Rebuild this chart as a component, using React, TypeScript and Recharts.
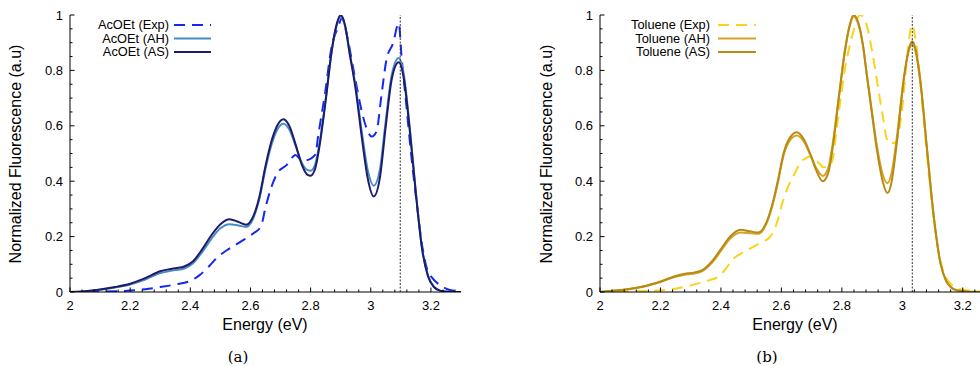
import React from 'react';
import { LineChart, Line, XAxis, YAxis, ReferenceLine } from 'recharts';

// ---------- data: panel (a) AcOEt ----------
const acExpE = [2.0, 2.1, 2.2, 2.25, 2.3, 2.35, 2.4, 2.43, 2.46, 2.49, 2.52, 2.55, 2.58, 2.61, 2.635, 2.65, 2.67, 2.69, 2.72, 2.75, 2.765, 2.785, 2.815, 2.826, 2.848, 2.87, 2.892, 2.905, 2.92, 2.947, 2.969, 2.986, 3.003, 3.019, 3.035, 3.052, 3.074, 3.093, 3.103, 3.117, 3.133, 3.155, 3.172, 3.188, 3.205, 3.22, 3.24, 3.26, 3.28, 3.3];
const acExpV = [0.0, 0.001, 0.005, 0.01, 0.018, 0.027, 0.04, 0.06, 0.09, 0.125, 0.15, 0.17, 0.19, 0.212, 0.237, 0.305, 0.38, 0.43, 0.458, 0.495, 0.48, 0.476, 0.495, 0.57, 0.718, 0.886, 0.958, 0.99, 0.93, 0.777, 0.657, 0.591, 0.561, 0.579, 0.705, 0.838, 0.898, 0.97, 0.84, 0.69, 0.51, 0.3, 0.16, 0.08, 0.05, 0.033, 0.018, 0.008, 0.004, 0.002];

const acCalcE = [2.0, 2.05, 2.1, 2.15, 2.2, 2.25, 2.3, 2.35, 2.38, 2.41, 2.44, 2.47, 2.5, 2.53, 2.56, 2.585, 2.61, 2.63, 2.65, 2.67, 2.69, 2.71, 2.73, 2.75, 2.77, 2.79, 2.8, 2.815, 2.83, 2.85, 2.87, 2.885, 2.9, 2.915, 2.93, 2.95, 2.97, 2.99, 3.01, 3.03, 3.05, 3.07, 3.093, 3.11, 3.13, 3.15, 3.17, 3.19, 3.21, 3.23, 3.26, 3.3];
const acAhV = [0.0, 0.003, 0.008, 0.016, 0.027, 0.045, 0.068, 0.079, 0.085, 0.105, 0.145, 0.192, 0.23, 0.245, 0.24, 0.235, 0.268, 0.338, 0.445, 0.532, 0.588, 0.607, 0.585, 0.528, 0.468, 0.44, 0.438, 0.46, 0.54, 0.695, 0.868, 0.955, 0.995, 0.958, 0.862, 0.74, 0.58, 0.44, 0.384, 0.44, 0.62, 0.785, 0.845, 0.785, 0.59, 0.36, 0.162, 0.06, 0.019, 0.005, 0.001, 0.0];
const acAsV = [0.0, 0.003, 0.009, 0.018, 0.03, 0.05, 0.075, 0.086, 0.092, 0.112, 0.155, 0.205, 0.245, 0.263, 0.253, 0.243, 0.275, 0.345, 0.455, 0.545, 0.603, 0.624, 0.598, 0.533, 0.462, 0.423, 0.42, 0.445, 0.53, 0.69, 0.87, 0.96, 1.0, 0.96, 0.86, 0.73, 0.56, 0.41, 0.345, 0.41, 0.6, 0.77, 0.829, 0.77, 0.58, 0.355, 0.16, 0.058, 0.018, 0.005, 0.001, 0.0];

// ---------- data: panel (b) Toluene ----------
const tolExpE = [2.0, 2.1, 2.2, 2.25, 2.3, 2.331, 2.36, 2.397, 2.42, 2.441, 2.465, 2.485, 2.51, 2.53, 2.563, 2.585, 2.6, 2.618, 2.64, 2.662, 2.684, 2.7, 2.711, 2.725, 2.739, 2.755, 2.767, 2.784, 2.806, 2.833, 2.861, 2.883, 2.905, 2.932, 2.955, 2.977, 2.999, 3.015, 3.032, 3.049, 3.071, 3.093, 3.115, 3.137, 3.17, 3.2, 3.25, 3.3];
const tolExpV = [0.0, 0.002, 0.006, 0.012, 0.024, 0.033, 0.042, 0.06, 0.09, 0.12, 0.138, 0.15, 0.165, 0.177, 0.2, 0.249, 0.31, 0.369, 0.418, 0.465, 0.485, 0.49, 0.476, 0.465, 0.45, 0.455, 0.47, 0.597, 0.777, 0.92, 1.0, 0.96, 0.838, 0.657, 0.537, 0.54, 0.657, 0.838, 0.964, 0.87, 0.62, 0.369, 0.177, 0.07, 0.02, 0.008, 0.002, 0.0];

const tolCalcE = [2.0, 2.05, 2.1, 2.15, 2.2, 2.25, 2.28, 2.31, 2.34, 2.37, 2.4, 2.43, 2.464, 2.5, 2.524, 2.55, 2.574, 2.59, 2.607, 2.63, 2.651, 2.675, 2.695, 2.715, 2.737, 2.755, 2.772, 2.79, 2.81, 2.825, 2.839, 2.855, 2.87, 2.883, 2.9, 2.916, 2.935, 2.951, 2.965, 2.982, 3.006, 3.02, 3.033, 3.045, 3.06, 3.082, 3.104, 3.126, 3.145, 3.16, 3.18, 3.22, 3.3];
const tolAhV = [0.0, 0.005, 0.011, 0.021, 0.036, 0.055, 0.062, 0.066, 0.076, 0.105, 0.148, 0.192, 0.215, 0.212, 0.21, 0.245, 0.327, 0.403, 0.492, 0.55, 0.565, 0.542, 0.497, 0.448, 0.419, 0.448, 0.552, 0.705, 0.868, 0.955, 0.995, 0.965, 0.888, 0.782, 0.648, 0.528, 0.425, 0.393, 0.432, 0.56, 0.78, 0.865, 0.895, 0.862, 0.755, 0.512, 0.273, 0.105, 0.04, 0.018, 0.006, 0.001, 0.0];
const tolAsV = [0.0, 0.005, 0.012, 0.022, 0.038, 0.058, 0.066, 0.07, 0.08, 0.11, 0.155, 0.2, 0.225, 0.218, 0.215, 0.25, 0.333, 0.41, 0.5, 0.56, 0.577, 0.55, 0.5, 0.44, 0.4, 0.43, 0.54, 0.7, 0.87, 0.96, 1.0, 0.97, 0.89, 0.78, 0.64, 0.513, 0.4, 0.357, 0.4, 0.54, 0.777, 0.87, 0.905, 0.87, 0.76, 0.513, 0.273, 0.105, 0.04, 0.018, 0.006, 0.001, 0.0];

// vertical markers (eV)
const acMarker = 3.098;
const tolMarker = 3.033;

// ---------- axes ----------
const X_DOMAIN = [2, 3.3];
const Y_DOMAIN = [0, 1];
const X_MAJOR = [2, 2.2, 2.4, 2.6, 2.8, 3, 3.2];
const X_MAJOR_LABELS = ['2', '2.2', '2.4', '2.6', '2.8', '3', '3.2'];
const Y_MAJOR = [0, 0.2, 0.4, 0.6, 0.8, 1];
const Y_MAJOR_LABELS = ['0', '0.2', '0.4', '0.6', '0.8', '1'];
const X_MINOR_STEP = 0.04;
const Y_MINOR_STEP = 0.05;

const xTicks: number[] = [];
for (let i = 0; i <= 32; i++) xTicks.push(Math.round((2 + i * X_MINOR_STEP) * 1000) / 1000);
const yTicks: number[] = [];
for (let i = 0; i <= 20; i++) yTicks.push(Math.round(i * Y_MINOR_STEP * 1000) / 1000);

const zip = (e: number[], v: number[]) => e.map((x, i) => ({ e: x, v: v[i] }));

const SANS = '"Liberation Sans", Arial, Helvetica, sans-serif';
const MAJ = 4.5;
const MIN = 2.5;

const majorIndex = (v: number, arr: number[]) => arr.findIndex((m) => Math.abs(m - v) < 1e-6);

const BottomTick = (p: any) => {
  const { x, y, payload } = p;
  const idx = majorIndex(payload.value, X_MAJOR);
  return (
    <g>
      <line x1={x} x2={x} y1={y} y2={y - (idx >= 0 ? MAJ : MIN)} stroke="#000" strokeWidth={1} />
      {idx >= 0 && (
        <text x={x} y={y + 18} textAnchor="middle" fontSize={13} fontFamily={SANS} fill="#000">
          {X_MAJOR_LABELS[idx]}
        </text>
      )}
    </g>
  );
};
const TopTick = (p: any) => {
  const { x, y, payload } = p;
  const idx = majorIndex(payload.value, X_MAJOR);
  return <line x1={x} x2={x} y1={y} y2={y + (idx >= 0 ? MAJ : MIN)} stroke="#000" strokeWidth={1} />;
};
const LeftTick = (p: any) => {
  const { x, y, payload } = p;
  const idx = majorIndex(payload.value, Y_MAJOR);
  return (
    <g>
      <line x1={x} x2={x + (idx >= 0 ? MAJ : MIN)} y1={y} y2={y} stroke="#000" strokeWidth={1} />
      {idx >= 0 && (
        <text x={x - 7} y={y} dy="0.35em" textAnchor="end" fontSize={13} fontFamily={SANS} fill="#000">
          {Y_MAJOR_LABELS[idx]}
        </text>
      )}
    </g>
  );
};
const RightTick = (p: any) => {
  const { x, y, payload } = p;
  const idx = majorIndex(payload.value, Y_MAJOR);
  return <line x1={x} x2={x - (idx >= 0 ? MAJ : MIN)} y1={y} y2={y} stroke="#000" strokeWidth={1} />;
};

type Series = { name: string; data: { e: number; v: number }[]; color: string; dash?: string; width: number };

type PanelProps = {
  series: Series[];
  marker: number;
  width: number;
  yAxisWidth: number;
  marginRight: number;
};

const Panel = ({ series, marker, width, yAxisWidth, marginRight }: PanelProps) => (
  <LineChart width={width} height={366} margin={{ top: 15, right: marginRight, bottom: 0, left: 0 }}>
    <XAxis
      xAxisId="b"
      type="number"
      dataKey="e"
      domain={X_DOMAIN}
      ticks={xTicks}
      interval={0}
      allowDataOverflow
      orientation="bottom"
      height={74}
      tickSize={0}
      tickMargin={0}
      tickLine={false}
      tick={<BottomTick />}
      axisLine={{ stroke: '#000', strokeWidth: 1 }}
    />
    <XAxis
      xAxisId="t"
      type="number"
      dataKey="e"
      domain={X_DOMAIN}
      ticks={xTicks}
      interval={0}
      allowDataOverflow
      orientation="top"
      height={0}
      tickSize={0}
      tickMargin={0}
      tickLine={false}
      tick={<TopTick />}
      axisLine={{ stroke: '#000', strokeWidth: 1 }}
    />
    <YAxis
      yAxisId="l"
      type="number"
      domain={Y_DOMAIN}
      ticks={yTicks}
      interval={0}
      allowDataOverflow
      orientation="left"
      width={yAxisWidth}
      tickSize={0}
      tickMargin={0}
      tickLine={false}
      tick={<LeftTick />}
      axisLine={{ stroke: '#000', strokeWidth: 1 }}
    />
    <YAxis
      yAxisId="r"
      type="number"
      domain={Y_DOMAIN}
      ticks={yTicks}
      interval={0}
      allowDataOverflow
      orientation="right"
      width={0}
      tickSize={0}
      tickMargin={0}
      tickLine={false}
      tick={<RightTick />}
      axisLine={{ stroke: '#000', strokeWidth: 1 }}
    />
    {series.map((s) => (
      <Line
        key={s.name}
        xAxisId="b"
        yAxisId="l"
        data={s.data}
        dataKey="v"
        name={s.name}
        type="monotone"
        stroke={s.color}
        strokeWidth={s.width}
        strokeDasharray={s.dash}
        dot={false}
        activeDot={false}
        isAnimationActive={false}
      />
    ))}
    <ReferenceLine xAxisId="b" yAxisId="l" x={marker} stroke="#333" strokeWidth={1} strokeDasharray="2 1.5" />
  </LineChart>
);

const acSeries: Series[] = [
  { name: 'AcOEt (Exp)', data: zip(acExpE, acExpV), color: '#1428f0', dash: '11 7', width: 2 },
  { name: 'AcOEt (AH)', data: zip(acCalcE, acAhV), color: '#4a8cc2', width: 2 },
  { name: 'AcOEt (AS)', data: zip(acCalcE, acAsV), color: '#1c1c6e', width: 2 },
];
const tolSeries: Series[] = [
  { name: 'Toluene (Exp)', data: zip(tolExpE, tolExpV), color: '#f8d41a', dash: '11 7', width: 2 },
  { name: 'Toluene (AH)', data: zip(tolCalcE, tolAhV), color: '#d6a32a', width: 2 },
  { name: 'Toluene (AS)', data: zip(tolCalcE, tolAsV), color: '#b78a12', width: 2 },
];

const Legend = ({ series, textRight, lineX1, lineX2 }: { series: Series[]; textRight: number; lineX1: number; lineX2: number }) => (
  <g>
    {series.map((s, i) => {
      const y = 25 + i * 13.5;
      return (
        <g key={s.name}>
          <text x={textRight} y={y} dy="0.35em" textAnchor="end" fontSize={12.8} fontFamily={SANS} fill="#000">
            {s.name}
          </text>
          <line x1={lineX1} x2={lineX2} y1={y} y2={y} stroke={s.color} strokeWidth={s.width} strokeDasharray={s.dash} />
        </g>
      );
    })}
  </g>
);

export default function App() {
  return (
    <div style={{ position: 'absolute', left: 0, top: 0, width: 980, height: 366, overflow: 'hidden', background: '#fff' }}>
      <div style={{ position: 'absolute', left: 0, top: 0 }}>
        <Panel series={acSeries} marker={acMarker} width={480} yAxisWidth={70} marginRight={19} />
      </div>
      <div style={{ position: 'absolute', left: 500, top: 0 }}>
        <Panel series={tolSeries} marker={tolMarker} width={500} yAxisWidth={100} marginRight={7} />
      </div>
      <svg width={980} height={366} style={{ position: 'absolute', left: 0, top: 0, pointerEvents: 'none' }}>
        <Legend series={acSeries} textRight={169} lineX1={174} lineX2={211} />
        <Legend series={tolSeries} textRight={710} lineX1={718} lineX2={756} />
        <text x={265} y={330} textAnchor="middle" fontSize={16} fontFamily={SANS} fill="#000">Energy (eV)</text>
        <text x={795} y={330} textAnchor="middle" fontSize={16} fontFamily={SANS} fill="#000">Energy (eV)</text>
        <text transform="translate(15.5,154) rotate(-90)" x={0} y={0} dy="0.35em" textAnchor="middle" fontSize={16} fontFamily={SANS} fill="#000">
          Normalized Fluorescence (a.u)
        </text>
        <text transform="translate(546,154) rotate(-90)" x={0} y={0} dy="0.35em" textAnchor="middle" fontSize={16} fontFamily={SANS} fill="#000">
          Normalized Fluorescence (a.u)
        </text>
        <text x={238} y={362} textAnchor="middle" fontSize={15} fontFamily='"DejaVu Serif", serif' fill="#000">(a)</text>
        <text x={767} y={362} textAnchor="middle" fontSize={15} fontFamily='"DejaVu Serif", serif' fill="#000">(b)</text>
      </svg>
    </div>
  );
}
